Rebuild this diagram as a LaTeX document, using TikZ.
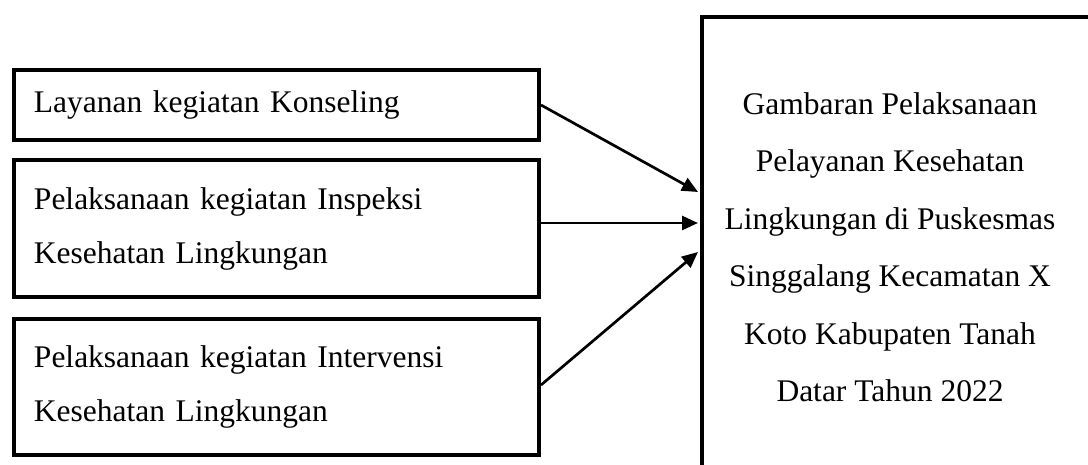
\documentclass[tikz,border=0pt]{standalone}
\usepackage{fontspec}
\setmainfont{Liberation Serif}
\usetikzlibrary{arrows.meta,calc}
\begin{document}
\begin{tikzpicture}[x=1pt,y=-1pt,
  inbox/.style={draw, line width=4pt, anchor=north west, minimum width=525pt,
    text width=485pt, inner xsep=20pt, align=left,
    font=\fontsize{31.5pt}{54pt}\selectfont},
  outbox/.style={draw, line width=4pt, anchor=north west, minimum width=420pt, minimum height=500pt},
  outtext/.style={align=center, font=\fontsize{31.5pt}{57.5pt}\selectfont},
  conn/.style={line width=2.7pt, -{Triangle[length=16pt,width=14pt]}}]
\useasboundingbox (0,0) rectangle (1088,465);
\clip (0,0) rectangle (1088,465);
\node[inbox, minimum height=70pt] (b1) at (12,68) {Layanan kegiatan Konseling};
\node[inbox, minimum height=137pt] (b2) at (12,158) {Pelaksanaan kegiatan Inspeksi\\Kesehatan Lingkungan};
\node[inbox, minimum height=136pt] (b3) at (12,317) {Pelaksanaan kegiatan Intervensi\\Kesehatan Lingkungan};
\node[outbox] (out) at (700,15) {};
\node[outtext] (txt) at (890,247) {Gambaran Pelaksanaan\\Pelayanan Kesehatan\\Lingkungan di Puskesmas\\Singgalang Kecamatan X\\Koto Kabupaten Tanah\\Datar Tahun 2022};
\coordinate (t1) at ($(out.north west)+(-2,177)$);
\coordinate (t2) at ($(out.north west)+(-2,208)$);
\coordinate (t3) at ($(out.north west)+(-2,237)$);
\draw[conn] (b1.east) -- (t1);
\draw[conn] (b2.east |- t2) -- (t2);
\draw[conn] ($(b3.east)+(0,-2)$) -- (t3);
\end{tikzpicture}
\end{document}
